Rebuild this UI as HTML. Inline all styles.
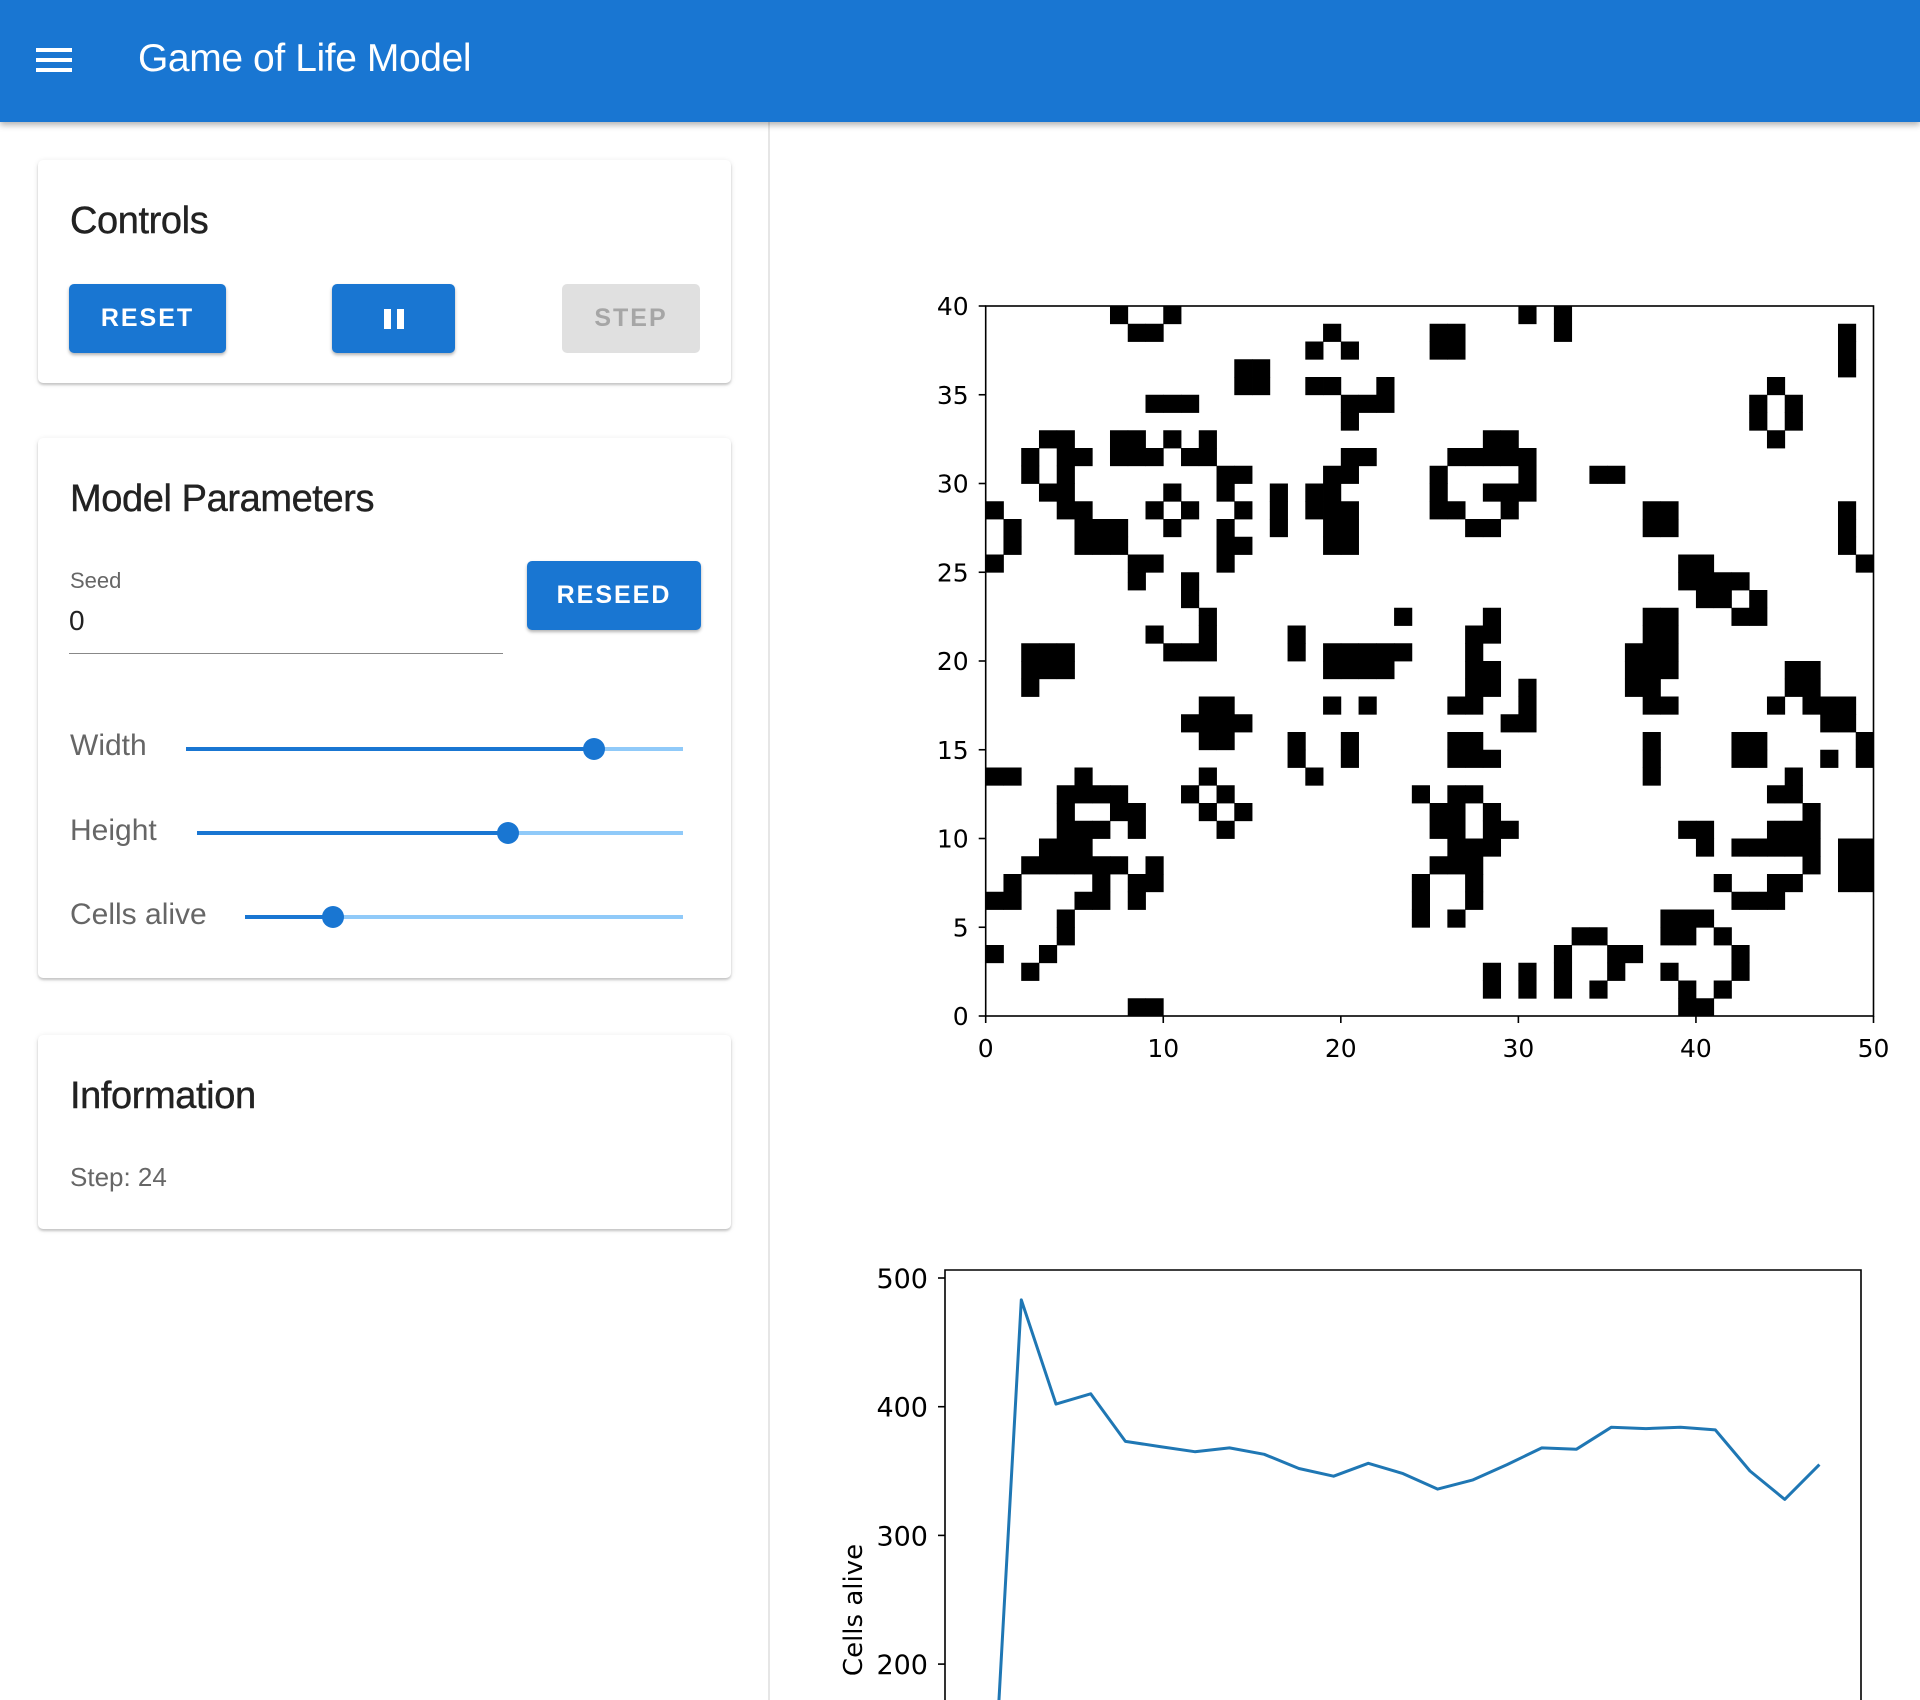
<!DOCTYPE html>
<html><head><meta charset="utf-8">
<style>
*{box-sizing:border-box;margin:0;padding:0}
html,body{width:1920px;height:1700px;overflow:hidden}
body{background:#fff;font-family:"Liberation Sans",sans-serif;position:relative}
.abs{position:absolute}
header{position:absolute;left:0;top:0;width:1920px;height:122px;background:#1976d2;box-shadow:0 3px 6px rgba(0,0,0,.3);z-index:5}
.bar{position:absolute;left:36px;width:36px;height:4px;background:#fff}
.title{position:absolute;left:138px;top:37px;font-size:39px;color:#fff;letter-spacing:-0.4px}
.card{position:absolute;left:38px;width:693px;background:#fff;border-radius:5px;box-shadow:0 2px 2px rgba(0,0,0,.18),0 1px 6px rgba(0,0,0,.1)}
.ct{position:absolute;left:32px;font-size:38px;color:#222;letter-spacing:-0.4px;-webkit-text-stroke:0.4px #222}
.btn{position:absolute;height:69px;border-radius:5px;background:#1976d2;color:#fff;font-weight:bold;font-size:25px;letter-spacing:2px;display:flex;align-items:center;justify-content:center;box-shadow:0 2px 3px rgba(0,0,0,.3)}
.lbl{position:absolute;left:32px;font-size:30px;color:#666}
.track{position:absolute;height:4px}
.thumb{position:absolute;width:22px;height:22px;border-radius:50%;background:#1976d2}
</style></head><body>
<header>
 <div class="abs" style="left:30px;top:40px;width:48px;height:40px">
  <div class="bar" style="left:6px;top:8px"></div><div class="bar" style="left:6px;top:18px"></div><div class="bar" style="left:6px;top:28px"></div>
 </div>
 <div class="title">Game of Life Model</div>
</header>
<div class="abs" style="left:768px;top:122px;width:2px;height:1578px;background:#e6e6e6"></div>

<div class="card" style="top:160px;height:223px">
 <div class="ct" style="top:40px">Controls</div>
 <div class="btn" style="left:31px;top:124px;width:157px">RESET</div>
 <div class="btn" style="left:294px;top:124px;width:123px"><span style="display:inline-block;width:7px;height:20px;background:#fff;margin-right:6px"></span><span style="display:inline-block;width:7px;height:20px;background:#fff"></span></div>
 <div class="btn" style="left:524px;top:124px;width:138px;background:#e0e0e0;color:#a6a6a6;box-shadow:none">STEP</div>
</div>

<div class="card" style="top:438px;height:540px">
 <div class="ct" style="top:40px">Model Parameters</div>
 <div class="abs" style="left:32px;top:130px;font-size:22px;color:#666">Seed</div>
 <div class="abs" style="left:31px;top:163px;width:434px;height:53px;border-bottom:1px solid #888;font-size:28px;color:#222;padding-top:4px">0</div>
 <div class="btn" style="left:489px;top:123px;width:174px">RESEED</div>
 <div class="lbl" style="top:291px">Width</div>
 <div class="track" style="left:148px;top:309px;width:410px;background:#1976d2"></div>
 <div class="track" style="left:556px;top:309px;width:89px;background:#90caf9"></div>
 <div class="thumb" style="left:545px;top:300px"></div>
 <div class="lbl" style="top:376px">Height</div>
 <div class="track" style="left:159px;top:393px;width:313px;background:#1976d2"></div>
 <div class="track" style="left:470px;top:393px;width:175px;background:#90caf9"></div>
 <div class="thumb" style="left:459px;top:384px"></div>
 <div class="lbl" style="top:460px">Cells alive</div>
 <div class="track" style="left:207px;top:477px;width:90px;background:#1976d2"></div>
 <div class="track" style="left:295px;top:477px;width:350px;background:#90caf9"></div>
 <div class="thumb" style="left:284px;top:468px"></div>
</div>

<div class="card" style="top:1035px;height:194px">
 <div class="ct" style="top:40px">Information</div>
 <div class="lbl" style="top:127px;font-size:26px">Step: 24</div>
</div>

<svg id="charts" class="abs" style="left:0;top:0;display:block" width="1920" height="1700" xmlns="http://www.w3.org/2000/svg"></svg>

<script>
// ---- grid data: alive columns per row, top row (y=39) first ----
const aliveRows = [
[7,10,30,32],[8,9,19,25,26,32,48],[18,20,25,26,48],[14,15,48],[14,15,18,19,22,44],
[9,10,11,20,21,22,43,45],[20,43,45],[3,4,7,8,10,12,28,29,44],
[2,4,5,7,8,9,11,12,20,21,26,27,28,29,30],[2,4,13,14,19,20,25,30,34,35],
[3,4,10,13,16,18,19,25,28,29,30],[0,4,5,9,11,14,16,18,19,20,25,26,29,37,38,48],
[1,5,6,7,10,13,16,19,20,27,28,37,38,48],[1,5,6,7,13,14,19,20,48],[0,8,9,13,39,40,49],
[8,11,39,40,41,42],[11,40,41,43],[12,23,28,37,38,42,43],[9,12,17,27,28,37,38],
[2,3,4,10,11,12,17,19,20,21,22,23,27,36,37,38],[2,3,4,19,20,21,22,27,28,36,37,38,45,46],
[2,27,28,30,36,37,45,46],[12,13,19,21,26,27,30,37,38,44,46,47,48],[11,12,13,14,29,30,47,48],
[12,13,17,20,26,27,37,42,43,49],[17,20,26,27,28,37,42,43,47,49],[0,1,5,12,18,37,45],
[4,5,6,7,11,13,24,26,27,44,45],[4,7,8,12,14,25,26,28,46],[4,5,6,8,13,25,26,28,29,39,40,44,45,46],
[3,4,5,26,27,28,40,42,43,44,45,46,48,49],[2,3,4,5,6,7,9,25,26,27,46,48,49],
[1,6,8,9,24,27,41,44,45,48,49],[0,1,5,6,8,24,27,42,43,44],[4,24,26,38,39,40],
[4,33,34,38,39,41],[0,3,32,35,36,42],[2,28,30,32,35,38,42],[28,30,32,34,39,41],[8,9,39,40]
];
const gridXTicks = [0,10,20,30,40,50];
const gridYTicks = [0,5,10,15,20,25,30,35,40];
// ---- line chart data ----
const steps = [0,1,2,3,4,5,6,7,8,9,10,11,12,13,14,15,16,17,18,19,20,21,22,23,24];
const cellsAlive = [0,483,402,410,373,369,365,368,363,352,346,356,348,336,343,355,368,367,384,383,384,382,350,328,355];
const lineYTicks = [200,300,400,500];

const NS='http://www.w3.org/2000/svg';
const svg=document.getElementById('charts');
function mk(tag,attrs,parent){const e=document.createElementNS(NS,tag);for(const k in attrs)e.setAttribute(k,attrs[k]);(parent||svg).appendChild(e);return e;}

// grid axes
const gx0=985.7,gx1=1873.5,gy0=1016,gy1=306,GW=50,GH=40;
const gX=c=>gx0+(gx1-gx0)*c/GW;
const gY=v=>gy0-(gy0-gy1)*v/GH;
const grid=mk('g',{});


aliveRows.forEach((cols,r)=>{
  const v=GH-1-r;
  cols.forEach(c=>{
    const rc=mk('rect',{x:gX(c),y:gY(v+1),width:gX(c+1)-gX(c)+0.4,height:gY(v)-gY(v+1)+0.4,fill:'#000'},grid);
    
    
  });
});
const gframe=mk('rect',{x:gx0,y:gy1,width:gx1-gx0,height:gy0-gy1,fill:'none',stroke:'#000','stroke-width':1.6});


gridXTicks.forEach(t=>{
  const x=gX(t);
  mk('line',{x1:x,y1:gy0,x2:x,y2:gy0+7,stroke:'#000','stroke-width':1.6});
  const tx=mk('text',{x:x,y:gy0+41,'font-size':25,'text-anchor':'middle','font-family':'DejaVu Sans, sans-serif',fill:'#000'});
  tx.textContent=t;
  
  
});
gridYTicks.forEach(t=>{
  const y=gY(t);
  mk('line',{x1:gx0,y1:y,x2:gx0-7,y2:y,stroke:'#000','stroke-width':1.6});
  const tx=mk('text',{x:gx0-17,y:y+9,'font-size':25,'text-anchor':'end','font-family':'DejaVu Sans, sans-serif',fill:'#000'});
  tx.textContent=t;
  
  
});

// line chart axes
const lx0=945,lx1=1861,ly1=1270;
const xMin=-1.2,xMax=25.2;
const lX=i=>lx0+(lx1-lx0)*(i-xMin)/(xMax-xMin);
const lY=v=>1278-(v-500)*1.287;
const clip=mk('clipPath',{id:'lc'});
mk('rect',{x:lx0,y:ly1,width:lx1-lx0,height:1700-ly1},clip);
const pts=steps.map((s,i)=>lX(s).toFixed(1)+','+lY(cellsAlive[i]).toFixed(1)).join(' ');
const pl=mk('polyline',{points:pts,fill:'none',stroke:'#1f77b4','stroke-width':3,'stroke-linejoin':'round','clip-path':'url(#lc)'});


const lf=mk('path',{d:`M${lx0},1700 V${ly1} H${lx1} V1700`,fill:'none',stroke:'#000','stroke-width':1.6});


lineYTicks.forEach(t=>{
  const y=lY(t);
  mk('line',{x1:lx0,y1:y,x2:lx0-7,y2:y,stroke:'#000','stroke-width':1.6});
  const tx=mk('text',{x:lx0-17,y:y+10,'font-size':27,'text-anchor':'end','font-family':'DejaVu Sans, sans-serif',fill:'#000'});
  tx.textContent=t;
  
  
});
const yl=mk('text',{x:0,y:0,'font-size':26,'text-anchor':'middle','font-family':'DejaVu Sans, sans-serif',fill:'#000',transform:'translate(862,1610) rotate(-90)'});
yl.textContent='Cells alive';


</script>
</body></html>
